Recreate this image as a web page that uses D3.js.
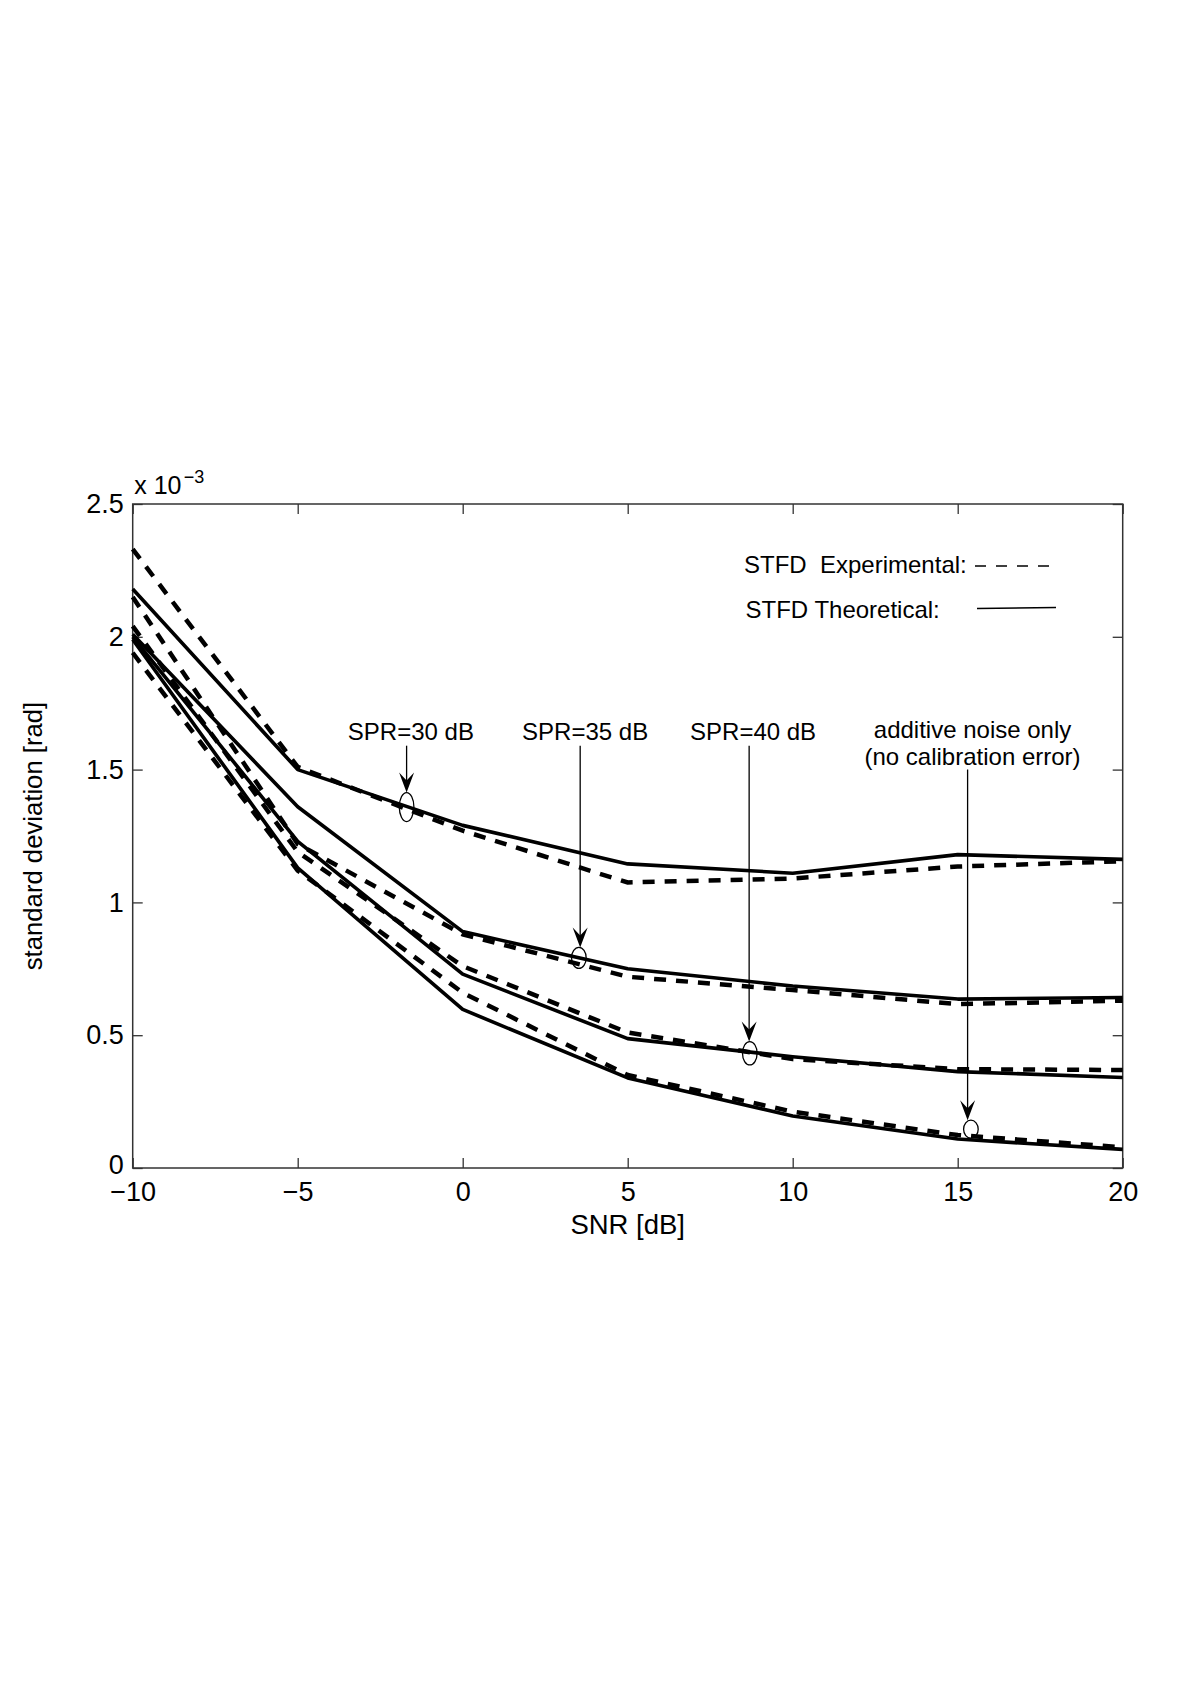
<!DOCTYPE html>
<html>
<head>
<meta charset="utf-8">
<script src="https://cdn.jsdelivr.net/npm/d3@7"></script>
<style>
  html, body { margin: 0; padding: 0; background: #fff; }
  svg { display: block; font-family: "Liberation Sans", Arial, Helvetica, sans-serif; }
  text { white-space: pre; }
</style>
</head>
<body>
<svg id="chart" width="1200" height="1698"></svg>
<script>
// ---------- data ----------
const snr = [-10, -5, 0, 5, 10, 15, 20];

const theo30 = [2.18, 1.50, 1.29, 1.145, 1.11, 1.18, 1.162];
const exp30  = [2.33, 1.51, 1.27, 1.075, 1.09, 1.135, 1.155];
const theo35 = [2.01, 1.36, 0.89, 0.75, 0.685, 0.636, 0.642];
const exp35  = [2.15, 1.22, 0.88, 0.72, 0.67, 0.617, 0.63];
const theo40 = [2.00, 1.23, 0.73, 0.487, 0.419, 0.363, 0.341];
const exp40  = [2.04, 1.19, 0.76, 0.51, 0.41, 0.372, 0.369];
const theoN  = [1.99, 1.13, 0.597, 0.339, 0.196, 0.109, 0.07];
const expN   = [1.94, 1.12, 0.66, 0.35, 0.212, 0.124, 0.078];

const xTicks = [-10, -5, 0, 5, 10, 15, 20];
const yTicks = [0, 0.5, 1, 1.5, 2, 2.5];

const xLabel = "SNR [dB]";
const yLabel = "standard deviation [rad]";
const legendLabels = ["STFD  Experimental:", "STFD Theoretical:"];

// annotations in data coordinates: label lines, label x, line x, marker center
const annLabels = [["SPR=30 dB"], ["SPR=35 dB"], ["SPR=40 dB"], ["additive noise only", "(no calibration error)"]];
const annTextX  = [-1.57, 3.71, 8.80, 15.45];
const annTextY  = [1.612, 1.612, 1.612, 1.619];
const annLineX  = [-1.70, 3.56, 8.68, 15.30];
const annLineTop = [1.59, 1.59, 1.59, 1.50];
const annMarkX  = [-1.70, 3.52, 8.70, 15.40];
const annMarkY  = [1.359, 0.791, 0.432, 0.146];
const annMarkRy = [14.5, 10.5, 11.7, 9];

// ---------- layout ----------
const L = 132.7, R = 1122.7, T = 504, B = 1168;
const svg = d3.select("#chart");
const x = d3.scaleLinear().domain([-10, 20]).range([L, R]);
const y = d3.scaleLinear().domain([0, 2.5]).range([B, T]);

const axisColor = "#333";

// axes
const gB = svg.append("g").attr("transform", `translate(0,${B})`)
  .call(d3.axisBottom(x).tickValues(xTicks).tickSizeInner(-10).tickSizeOuter(0).tickPadding(14).tickFormat(d3.format("d")));
const gL = svg.append("g").attr("transform", `translate(${L},0)`)
  .call(d3.axisLeft(y).tickValues(yTicks).tickSizeInner(-10).tickSizeOuter(0).tickPadding(9).tickFormat(d => d === 0 ? "0" : d3.format("")(d)));
const gT = svg.append("g").attr("transform", `translate(0,${T})`)
  .call(d3.axisTop(x).tickValues(xTicks).tickSizeInner(-10).tickSizeOuter(0).tickFormat(""));
const gR = svg.append("g").attr("transform", `translate(${R},0)`)
  .call(d3.axisRight(y).tickValues(yTicks).tickSizeInner(-10).tickSizeOuter(0).tickFormat(""));

[gB, gL, gT, gR].forEach(g => {
  g.select(".domain").remove();
  g.selectAll(".tick line").attr("stroke", axisColor).attr("stroke-width", 1.3);
  g.selectAll(".tick text").attr("fill", "#000").attr("font-size", 27).attr("font-family", "Liberation Sans, Arial, sans-serif");
});
// nudge the "0" label of the y axis slightly up so it does not touch "−10"
gL.selectAll(".tick text").filter(d => d === 0).attr("dy", "0.2em");

svg.append("rect").attr("x", L).attr("y", T).attr("width", R - L).attr("height", B - T)
  .attr("fill", "none").attr("stroke", axisColor).attr("stroke-width", 1.5);

// exponent label
svg.append("text").attr("x", L + 1.5).attr("y", T - 10).attr("font-size", 25).text("x 10");
svg.append("text").attr("x", L + 51).attr("y", T - 21).attr("font-size", 18).text("\u22123");

// axis labels
svg.append("text").attr("x", (L + R) / 2).attr("y", B + 66).attr("text-anchor", "middle")
  .attr("font-size", 27.5).text(xLabel);
svg.append("text").attr("transform", `translate(42,${(T + B) / 2}) rotate(-90)`)
  .attr("text-anchor", "middle").attr("font-size", 25.7).text(yLabel);

// ---------- curves ----------
const line = d3.line().x((d, i) => x(snr[i])).y(d => y(d));
const solid = [theo30, theo35, theo40, theoN];
const dashed = [exp30, exp35, exp40, expN];

svg.append("g").selectAll("path").data(dashed).join("path")
  .attr("d", line).attr("fill", "none").attr("stroke", "#000")
  .attr("stroke-width", 4.5).attr("stroke-dasharray", "12,10");
svg.append("g").selectAll("path").data(solid).join("path")
  .attr("d", line).attr("fill", "none").attr("stroke", "#000")
  .attr("stroke-width", 3.6).attr("stroke-linejoin", "round");

// ---------- legend ----------
const lg = svg.append("g");
lg.append("text").attr("x", 744).attr("y", 573).attr("font-size", 24).text(legendLabels[0]);
lg.append("text").attr("x", 745.5).attr("y", 618).attr("font-size", 24).text(legendLabels[1]);
lg.append("line").attr("x1", 975).attr("x2", 1056).attr("y1", 566).attr("y2", 566)
  .attr("stroke", "#000").attr("stroke-width", 1.5).attr("stroke-dasharray", "11,10");
lg.append("line").attr("x1", 977).attr("x2", 1056).attr("y1", 608.5).attr("y2", 607.5)
  .attr("stroke", "#000").attr("stroke-width", 1.5);

// ---------- annotations ----------
const ag = svg.append("g");
annLabels.forEach((lines, i) => {
  const t = ag.append("text").attr("text-anchor", "middle").attr("font-size", 24)
    .attr("x", x(annTextX[i])).attr("y", y(annTextY[i]));
  lines.forEach((s, j) => {
    t.append("tspan").attr("x", x(annTextX[i])).attr("dy", j === 0 ? 0 : 27).text(s);
  });
  const cx = x(annMarkX[i]), cy = y(annMarkY[i]);
  const tipY = cy - annMarkRy[i];
  const lx = x(annLineX[i]);
  ag.append("line").attr("x1", lx).attr("x2", lx).attr("y1", y(annLineTop[i])).attr("y2", tipY - 8)
    .attr("stroke", "#000").attr("stroke-width", 1.3);
  ag.append("path")
    .attr("d", `M${lx},${tipY} L${lx - 7.5},${tipY - 20} L${lx},${tipY - 12} L${lx + 7.5},${tipY - 20} Z`)
    .attr("fill", "#000");
  ag.append("ellipse").attr("cx", cx).attr("cy", cy).attr("rx", 7.3).attr("ry", annMarkRy[i])
    .attr("fill", "none").attr("stroke", "#000").attr("stroke-width", 1.3);
});
</script>
</body>
</html>
